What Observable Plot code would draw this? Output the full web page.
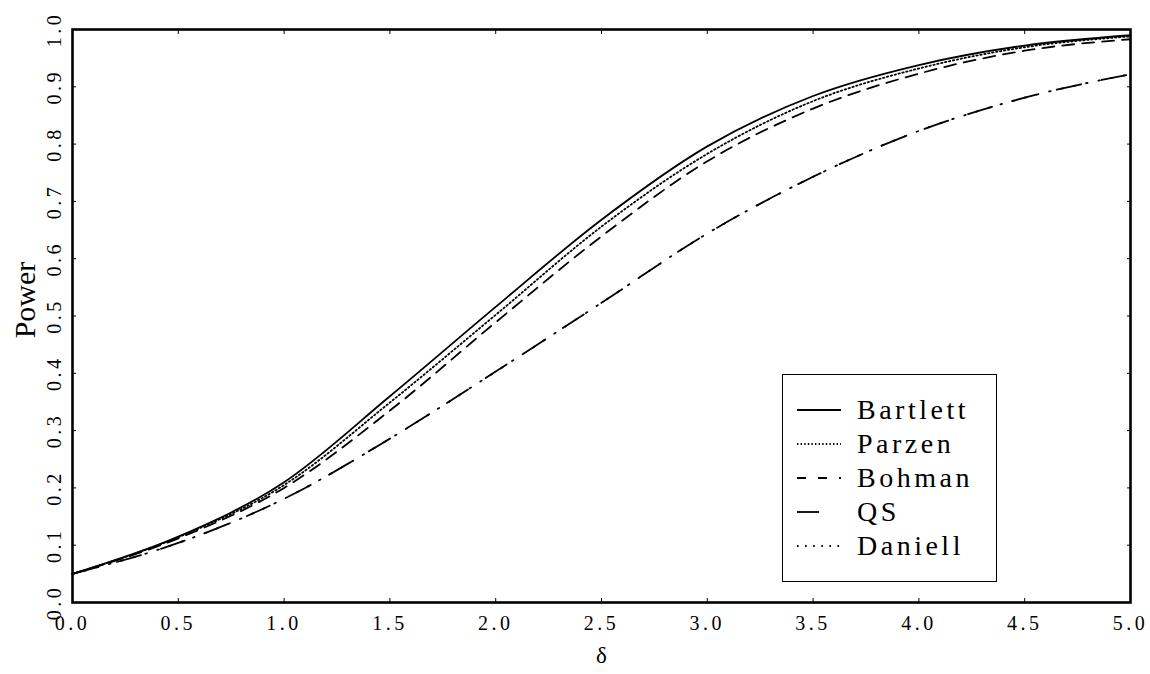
<!DOCTYPE html>
<html>
<head>
<meta charset="utf-8">
<script src="https://cdn.jsdelivr.net/npm/d3@7"></script>
<script src="https://cdn.jsdelivr.net/npm/@observablehq/plot@0.6"></script>
<style>
  html, body { margin: 0; padding: 0; background: #fff; }
  #wrap { position: relative; width: 1150px; height: 674px; }
  #legend { position: absolute; left: 782px; top: 374px; width: 215px; height: 208px;
            border: 1px solid #000; background: #fff; box-sizing: border-box; }
  #wrap svg g[aria-label$="tick label"] text { font-size: 20px !important; letter-spacing: 3.5px; }
  #wrap svg g[aria-label$="tick label"] { font-size: 20px !important; }
  #wrap svg g[aria-label="x-axis label"] { font-size: 23px !important; }
  #wrap svg g[aria-label="x-axis label"] text { font-size: 23px !important; }
</style>
</head>
<body>
<div id="wrap"></div>
<script>
const delta   = [0, 0.5, 1.0, 1.5, 2.0, 2.5, 3.0, 3.5, 4.0, 4.5, 5.0];
const bartlett = [0.050, 0.115, 0.210, 0.360, 0.516, 0.668, 0.796, 0.884, 0.938, 0.972, 0.990];
const parzen   = [0.050, 0.114, 0.205, 0.349, 0.502, 0.656, 0.783, 0.875, 0.932, 0.969, 0.988];
const bohman   = [0.050, 0.112, 0.200, 0.335, 0.489, 0.639, 0.770, 0.862, 0.923, 0.963, 0.983];
const qs       = [0.050, 0.104, 0.181, 0.286, 0.403, 0.523, 0.644, 0.743, 0.823, 0.881, 0.922];
const daniell  = [0.050, 0.104, 0.181, 0.286, 0.403, 0.523, 0.644, 0.743, 0.823, 0.881, 0.922];
const seriesNames = ["Bartlett", "Parzen", "Bohman", "QS", "Daniell"];
const xTicks = [0, 0.5, 1.0, 1.5, 2.0, 2.5, 3.0, 3.5, 4.0, 4.5, 5.0];
const yTicks = [0, 0.1, 0.2, 0.3, 0.4, 0.5, 0.6, 0.7, 0.8, 0.9, 1.0];

const styles = {
  Bartlett: {dash: null,      width: 1.8, legendDash: null},
  Parzen:   {dash: "1.4,2.6", width: 1.8, legendDash: "1.4,2.2"},
  Bohman:   {dash: "12,8",    width: 1.8, legendDash: "9,12"},
  QS:       {dash: "25,21",   width: 1.8, legendDash: "22,40"},
  Daniell:  {dash: "1.6,11",  width: 1.8, legendDash: "1.6,6.5"}
};
const values = {Bartlett: bartlett, Parzen: parzen, Bohman: bohman, QS: qs, Daniell: daniell};
const rows = seriesNames.flatMap(s => delta.map((d, i) => ({series: s, delta: d, power: values[s][i]})));

const fmt = d3.format(".1f");
const font = "'Liberation Serif', 'DejaVu Serif', serif";

const chart = Plot.plot({
  width: 1150,
  height: 674,
  marginLeft: 72,
  marginRight: 20,
  marginTop: 29,
  marginBottom: 72,
  style: {fontFamily: font, fontSize: "20px", color: "#000", background: "#fff"},
  x: {domain: [0, 5]},
  y: {domain: [0, 1]},
  marks: [
    ...seriesNames.map(s => Plot.line(rows.filter(r => r.series === s), {
      x: "delta", y: "power", stroke: "#000", strokeWidth: styles[s].width,
      strokeDasharray: styles[s].dash, curve: "monotone-x"
    })),
    Plot.axisX({ticks: xTicks, tickSize: -4, tickPadding: 17, tickFormat: fmt,
      fontSize: 20, label: null}),
    Plot.axisX({ticks: [], label: "δ", labelAnchor: "center", labelOffset: 60, labelArrow: "none",
      fontSize: 23, tickSize: 0}),
    Plot.axisX({anchor: "top", ticks: xTicks, tickSize: -4, tickFormat: () => "", label: null}),
    Plot.axisY({ticks: yTicks, tickSize: -4, tickPadding: 16, tickFormat: fmt, tickRotate: -90,
      fontSize: 20, label: null}),
    Plot.axisY({anchor: "right", ticks: yTicks, tickSize: -4, tickFormat: () => "", label: null}),
    Plot.text(["Power"], {frameAnchor: "left", textAnchor: "middle", dx: -47, dy: -16, rotate: -90,
      fontSize: 30, fontFamily: font, fill: "#000"}),
    Plot.frame({stroke: "#000", strokeWidth: 2.6})
  ]
});
document.getElementById("wrap").appendChild(chart);

// Legend box
const leg = document.createElement("div");
leg.id = "legend";
document.getElementById("wrap").appendChild(leg);
const lsvg = d3.select(leg).append("svg").attr("width", 213).attr("height", 206);
seriesNames.forEach((s, i) => {
  const y = 35 + i * 34;
  lsvg.append("line").attr("x1", 14).attr("x2", 58).attr("y1", y).attr("y2", y)
    .attr("stroke", "#000").attr("stroke-width", 1.8)
    .attr("stroke-dasharray", styles[s].legendDash);
  lsvg.append("text").attr("x", 74).attr("y", y + 9).text(s)
    .attr("font-family", font).attr("font-size", 28).attr("letter-spacing", "3.5px").attr("fill", "#000");
});
</script>
</body>
</html>
